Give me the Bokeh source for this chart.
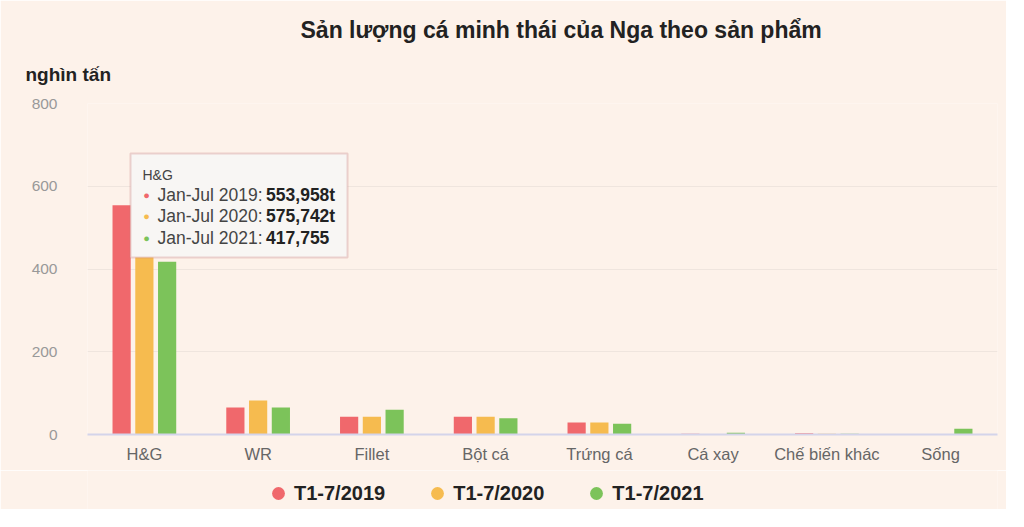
from bokeh.plotting import figure
from bokeh.layouts import column
from bokeh.models import FactorRange, Range1d, Label, BoxAnnotation, Legend, LegendItem, ColumnDataSource, FixedTicker, Title
from bokeh.transform import dodge
from bokeh.embed import file_html
from bokeh.resources import INLINE

categories = ["H&G", "WR", "Fillet", "Bột cá", "Trứng cá", "Cá xay", "Chế biến khác", "Sống"]
series_names = ["T1-7/2019", "T1-7/2020", "T1-7/2021"]
tooltip_names = ["Jan-Jul 2019", "Jan-Jul 2020", "Jan-Jul 2021"]
tooltip_values = ["553,958t", "575,742t", "417,755"]
v2019 = [553.958, 65, 43, 43, 29, 2, 3, 0]
v2020 = [575.742, 82, 43, 43, 29, 1.5, 2, 0]
v2021 = [417.755, 65, 60, 39, 26, 4, 2, 14]
colors = ["#f0686c", "#f6bb4f", "#7cc35a"]
y_ticks = [0, 200, 400, 600, 800]

FONT = "Liberation Sans"
BG = "#fdf2ea"

src = ColumnDataSource(dict(cat=categories, a=v2019, b=v2020, c=v2021))

p = figure(x_range=FactorRange(*categories), y_range=Range1d(0, 800),
           width=1006, height=470, output_backend="svg", toolbar_location=None,
           min_border_left=87, min_border_right=9, min_border_top=103, min_border_bottom=36)
p.background_fill_color = BG
p.border_fill_color = BG
p.outline_line_color = None

for key, off, col in zip(["a", "b", "c"], [-0.2, 0.0, 0.2], colors):
    p.vbar(x=dodge("cat", off, range=p.x_range), top=key, width=0.16, source=src,
           fill_color=col, line_color=None)

# axes
p.yaxis.ticker = FixedTicker(ticks=y_ticks)
p.yaxis.axis_line_color = None
p.yaxis.major_tick_line_color = None
p.yaxis.minor_tick_line_color = None
p.yaxis.major_label_text_color = "#999999"
p.yaxis.major_label_text_font = FONT
p.yaxis.major_label_text_font_size = "15.5px"
p.yaxis.major_label_standoff = 24

p.xaxis.axis_line_color = "#d4d4ea"
p.xaxis.axis_line_width = 2
p.xaxis.major_tick_line_color = None
p.xaxis.minor_tick_line_color = None
p.xaxis.major_label_text_color = "#666666"
p.xaxis.major_label_text_font = FONT
p.xaxis.major_label_text_font_size = "16.5px"
p.xaxis.major_label_standoff = 4

p.xgrid.grid_line_color = None
p.ygrid.grid_line_color = "#efe5de"
p.ygrid.grid_line_width = 1

# y label (nearest the frame) and main title
p.add_layout(Title(text="nghìn tấn", align="left", offset=-62, text_font=FONT,
                   text_font_size="19px", text_font_style="bold", text_color="#222222",
                   standoff=38), "above")
p.add_layout(Title(text="Sản lượng cá minh thái của Nga theo sản phẩm", align="left", offset=213,
                   text_font=FONT, text_font_size="23px", text_font_style="bold",
                   text_color="#222222", standoff=0), "above")

# tooltip box
p.add_layout(BoxAnnotation(left=0.378, right=2.286, bottom=428, top=679,
                           fill_color="#f8f6f4", fill_alpha=1.0,
                           line_color="#c87a7a", line_width=2))
p.add_layout(Label(x=0.4835, y=628, text=categories[0], text_font=FONT, text_font_size="14px",
                   text_color="#444444", text_baseline="middle"))
row_y = [578, 527, 476]
for name, val, col, yy in zip(tooltip_names, tooltip_values, colors, row_y):
    p.add_layout(Label(x=0.49, y=yy, text="●", text_font=FONT, text_font_size="11px",
                       text_color=col, text_baseline="middle"))
    p.add_layout(Label(x=0.615, y=yy, text=name + ":", text_font=FONT, text_font_size="17.5px",
                       text_color="#444444", text_baseline="middle"))
    p.add_layout(Label(x=1.57, y=yy, text=val, text_font=FONT, text_font_size="17.5px",
                       text_font_style="bold", text_color="#222222", text_baseline="middle"))

# legend strip
lg = figure(width=1006, height=39, x_range=Range1d(0, 1), y_range=Range1d(0, 1),
            output_backend="svg", toolbar_location=None, x_axis_type=None, y_axis_type=None,
            min_border_left=0, min_border_right=0, min_border_top=0, min_border_bottom=0)
lg.background_fill_color = BG
lg.border_fill_color = BG
lg.outline_line_color = None
lg.xgrid.grid_line_color = None
lg.ygrid.grid_line_color = None
items = []
for name, col in zip(series_names, colors):
    r = lg.scatter(x=[5], y=[5], marker="circle", size=14, fill_color=col, line_color=None)
    items.append(LegendItem(label=name, renderers=[r]))
legend = Legend(items=items, orientation="horizontal", location=(175, 0),
                background_fill_alpha=0, border_line_color=None,
                label_text_font=FONT, label_text_font_size="20px", label_text_color="#222222",
                label_text_font_style="bold", glyph_width=32, glyph_height=32,
                spacing=36, label_standoff=0, padding=0, margin=0)
lg.add_layout(legend)

layout = column(p, lg, spacing=0)
open("out.html", "w").write(file_html(layout, INLINE))
